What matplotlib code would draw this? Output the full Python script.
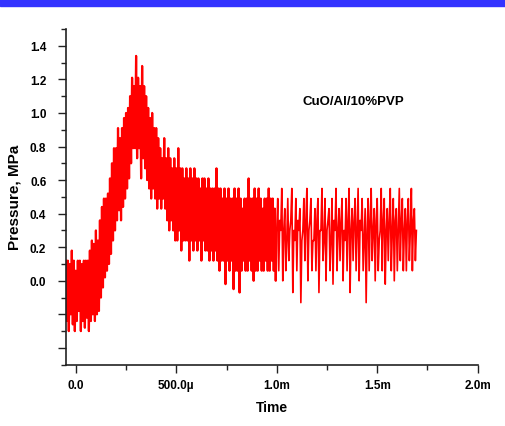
import numpy as np
import matplotlib.pyplot as plt
from matplotlib.patches import Rectangle
from matplotlib.ticker import MultipleLocator

# pressure trace, MPa, one sample every 5 us starting at -50 us
t_start_ms = -0.05
t_step_ms = 0.005
pressure = [
    0.12, -0.24, 0.12, -0.30, 0.10, -0.20, 0.18, -0.26, 0.12, -0.30,
    0.06, -0.24, 0.12, -0.18, 0.12, -0.30, 0.10, -0.24, 0.12, -0.28,
    0.12, -0.22, 0.12, -0.30, 0.18, -0.24, 0.24, -0.20, 0.22, -0.24,
    0.30, -0.20, 0.24, -0.18, 0.36, -0.10, 0.44, -0.04, 0.49, 0.02,
    0.49, 0.06, 0.52, 0.10, 0.61, 0.16, 0.70, 0.24, 0.79, 0.30,
    0.79, 0.36, 0.91, 0.42, 0.85, 0.36, 0.91, 0.44, 0.97, 0.49,
    1.00, 0.55, 1.03, 0.61, 1.10, 0.70, 1.21, 0.79, 1.16, 0.79,
    1.34, 0.73, 1.21, 0.79, 1.16, 0.61, 1.28, 0.73, 1.16, 0.67,
    1.10, 0.60, 1.03, 0.55, 0.97, 0.49, 1.00, 0.55, 0.91, 0.49,
    0.91, 0.43, 0.85, 0.49, 0.79, 0.43, 0.73, 0.49, 0.85, 0.43,
    0.73, 0.36, 0.79, 0.30, 0.73, 0.36, 0.67, 0.30, 0.73, 0.24,
    0.67, 0.24, 0.79, 0.30, 0.67, 0.18, 0.67, 0.24, 0.61, 0.24,
    0.67, 0.24, 0.61, 0.12, 0.67, 0.24, 0.61, 0.18, 0.67, 0.24,
    0.61, 0.18, 0.61, 0.24, 0.55, 0.12, 0.61, 0.24, 0.61, 0.18,
    0.55, 0.18, 0.61, 0.12, 0.55, 0.18, 0.55, 0.12, 0.55, 0.18,
    0.67, 0.12, 0.55, 0.06, 0.55, 0.12, 0.49, 0.12, 0.55, -0.02,
    0.49, 0.12, 0.55, 0.06, 0.49, 0.12, 0.49, -0.05, 0.55, 0.06,
    0.49, 0.06, 0.55, -0.07, 0.49, 0.06, 0.43, 0.12, 0.49, 0.06,
    0.49, 0.06, 0.61, 0.12, 0.49, 0.06, 0.49, 0.00, 0.55, 0.06,
    0.49, 0.06, 0.55, 0.12, 0.49, 0.06, 0.43, 0.06, 0.49, 0.12,
    0.49, 0.06, 0.55, 0.06, 0.49, 0.12, 0.49, 0.06, 0.43, 0.00,
    # after 1 ms
    0.30, 0.49, 0.06, 0.36, 0.30, 0.55, 0.00, 0.30, 0.43, 0.06,
    0.24, 0.49, 0.12, 0.30, 0.36, 0.55, -0.07, 0.30, 0.24, 0.49,
    0.06, 0.36, 0.30, 0.43, -0.13, 0.24, 0.30, 0.49, 0.12, 0.36,
    0.55, 0.00, 0.30, 0.36, 0.49, 0.06, 0.24, 0.24, 0.43, 0.06,
    0.36, 0.49, -0.07, 0.30, 0.30, 0.55, 0.12, 0.24, 0.49, 0.00,
    0.30, 0.36, 0.43, 0.06, 0.24, 0.49, -0.02, 0.36, 0.30, 0.55,
    0.06, 0.30, 0.43, 0.12, 0.36, 0.49, 0.00, 0.30, 0.24, 0.49,
    0.06, 0.36, 0.55, -0.07, 0.30, 0.43, 0.12, 0.36, 0.49, 0.06,
    0.30, 0.55, 0.00, 0.36, 0.30, 0.49, 0.06, 0.24, 0.43, -0.13,
    0.30, 0.49, 0.06, 0.36, 0.55, 0.12, 0.30, 0.43, 0.00, 0.36,
    0.49, 0.06, 0.24, 0.30, 0.55, 0.06, 0.36, 0.49, -0.02, 0.30,
    0.43, 0.12, 0.36, 0.55, 0.06, 0.30, 0.49, 0.00, 0.36, 0.43,
    0.06, 0.30, 0.55, 0.12, 0.36, 0.49, 0.06, 0.30, 0.43, 0.06,
    0.36, 0.49, 0.12, 0.30, 0.55, 0.06, 0.36, 0.43, 0.12, 0.30,
]

x_ticks = [0.0, 0.5, 1.0, 1.5, 2.0]
x_labels = ["0.0", "500.0\u00b5", "1.0m", "1.5m", "2.0m"]
y_ticks = [-0.4, -0.2, 0.0, 0.2, 0.4, 0.6, 0.8, 1.0, 1.2, 1.4]
y_labels = ["", "", "0.0", "0.2", "0.4", "0.6", "0.8", "1.0", "1.2", "1.4"]

sample_name = "CuO/Al/10%PVP"

plt.rcParams['font.family'] = ['Liberation Sans', 'DejaVu Sans']

t = t_start_ms + t_step_ms * np.arange(len(pressure))
p = np.array(pressure)
dense = t < 1.0

fig = plt.figure(figsize=(5.06, 4.27), dpi=100)
# blue strip along the top edge
fig.patches.append(Rectangle((0, 1 - 7 / 427), 1, 7 / 427, transform=fig.transFigure,
                             color="#3333ff", zorder=0))
ax = fig.add_axes([0.130, 0.1436, 0.814, 0.786])

# the first millisecond is drawn heavier so it fills in like the original trace
n = dense.sum()
ax.plot(t[:n + 1], p[:n + 1], color="#ff0000", lw=1.6)
ax.plot(t[n:], p[n:], color="#ff0000", lw=1.2)

ax.set_xlim(-0.05, 2.0)
ax.set_ylim(-0.5, 1.5)
ax.set_xticks(x_ticks)
ax.set_xticklabels(x_labels)
ax.set_yticks(y_ticks)
ax.set_yticklabels(y_labels)
ax.xaxis.set_minor_locator(MultipleLocator(0.25))
ax.yaxis.set_minor_locator(MultipleLocator(0.1))

for side in ["top", "right"]:
    ax.spines[side].set_visible(False)
for side in ["left", "bottom"]:
    ax.spines[side].set_linewidth(1.2)
    ax.spines[side].set_color("#222222")

ax.tick_params(which="major", length=6, width=1, color="#222222", labelsize=8.5, pad=4)
ax.tick_params(axis="y", which="major", pad=8)
ax.tick_params(which="minor", length=3.5, width=1, color="#222222")
for lab in ax.get_xticklabels() + ax.get_yticklabels():
    lab.set_fontweight("bold")

ax.set_xlabel("Time", fontsize=10, fontweight="bold", labelpad=7)
ax.set_ylabel("Pressure, MPa", fontsize=11, fontweight="bold", labelpad=6)
ax.text(0.574, 0.785, sample_name, transform=ax.transAxes, fontsize=9.5,
        fontweight="bold", va="center")

fig.savefig("out.png", dpi=100)
